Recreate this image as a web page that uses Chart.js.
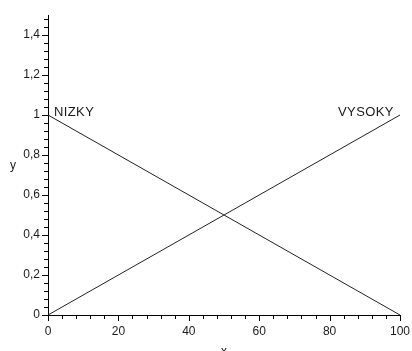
<!DOCTYPE html>
<html>
<head>
<meta charset="utf-8">
<script src="https://cdn.jsdelivr.net/npm/chart.js@4/dist/chart.umd.min.js"></script>
<style>
  html, body { margin: 0; padding: 0; background: #fff; }
  #wrap { width: 412px; height: 351px; }
</style>
</head>
<body>
<div id="wrap"><canvas id="c" width="412" height="351"></canvas></div>
<script>
// Membership lines of the two fuzzy sets
const xValues = [0, 100];
const nizkyValues = [1, 0];
const vysokyValues = [0, 1];
const seriesNames = ['NIZKY', 'VYSOKY'];

// Axis ticks
const xMajorTicks = [0, 20, 40, 60, 80, 100];
const yMajorTicks = [0, 0.2, 0.4, 0.6, 0.8, 1, 1.2, 1.4];
const xMinorStep = 4;
const yMinorStep = 0.04;
const xAxisTitle = 'x';
const yAxisTitle = 'y';

const FONT = '"Liberation Sans", Arial, sans-serif';
const TEXT = '#1a1a1a';

const toPoints = (ys) => xValues.map((x, i) => ({ x, y: ys[i] }));
const fmt = (v) => String(Math.round(v * 10) / 10).replace('.', ',');

// Minor tick marks along both axes, plus the curve names and axis letters
const annotate = {
  id: 'annotate',
  afterDraw(chart) {
    const ctx = chart.ctx;
    const xs = chart.scales.x, ys = chart.scales.y;
    const x0 = xs.getPixelForValue(0), y0 = ys.getPixelForValue(0);
    ctx.save();
    ctx.strokeStyle = '#000';
    ctx.lineWidth = 1;
    ctx.beginPath();
    for (let v = 0; v <= xs.max + 1e-9; v += xMinorStep) {
      const px = Math.round(xs.getPixelForValue(v)) + 0.5;
      const len = xMajorTicks.includes(Math.round(v)) ? 6 : 4;
      ctx.moveTo(px, y0); ctx.lineTo(px, y0 + len);
    }
    for (let i = 0; i * yMinorStep <= ys.max + 1e-9; i++) {
      const v = i * yMinorStep;
      const py = Math.round(ys.getPixelForValue(v)) + 0.5;
      const isMajor = yMajorTicks.some(t => Math.abs(t - v) < 1e-6);
      const len = isMajor ? 6 : 4;
      ctx.moveTo(x0, py); ctx.lineTo(x0 - len, py);
    }
    ctx.stroke();

    ctx.fillStyle = TEXT;
    ctx.font = '13px ' + FONT;
    if ('letterSpacing' in ctx) ctx.letterSpacing = '0.4px';
    ctx.textBaseline = 'alphabetic';
    ctx.textAlign = 'left';
    ctx.fillText(seriesNames[0], xs.getPixelForValue(1.7), ys.getPixelForValue(1) + 1);
    ctx.fillText(seriesNames[1], xs.getPixelForValue(82.4), ys.getPixelForValue(1) + 1);
    if ('letterSpacing' in ctx) ctx.letterSpacing = '0px';

    ctx.font = '12px ' + FONT;
    ctx.textAlign = 'center';
    ctx.fillText(yAxisTitle, 13, (chart.chartArea.top + chart.chartArea.bottom) / 2 + 4);
    ctx.fillText(xAxisTitle, (chart.chartArea.left + chart.chartArea.right) / 2, 355);
    ctx.restore();
  }
};

new Chart(document.getElementById('c'), {
  type: 'line',
  data: {
    datasets: [
      { label: seriesNames[0], data: toPoints(nizkyValues), borderColor: '#222', borderWidth: 1, pointRadius: 0, fill: false, tension: 0 },
      { label: seriesNames[1], data: toPoints(vysokyValues), borderColor: '#222', borderWidth: 1, pointRadius: 0, fill: false, tension: 0 }
    ]
  },
  options: {
    responsive: false,
    animation: false,
    events: [],
    layout: { padding: { top: 15, right: 12, left: 0, bottom: 0 } },
    plugins: { legend: { display: false }, tooltip: { enabled: false } },
    scales: {
      x: {
        type: 'linear', min: 0, max: 100,
        afterFit: (s) => { s.height = 36; s.paddingLeft = 0; s.paddingRight = 0; },
        afterBuildTicks: (s) => { s.ticks = xMajorTicks.map(v => ({ value: v })); },
        grid: { display: false, drawTicks: false },
        border: { display: true, color: '#000', width: 1 },
        ticks: { color: TEXT, font: { family: FONT, size: 12 }, padding: 9, maxRotation: 0, callback: (v) => String(v) }
      },
      y: {
        type: 'linear', min: 0, max: 1.5,
        afterFit: (s) => { s.width = 48; s.paddingTop = 0; s.paddingBottom = 0; },
        afterBuildTicks: (s) => { s.ticks = yMajorTicks.map(v => ({ value: v })); },
        grid: { display: false, drawTicks: false },
        border: { display: true, color: '#000', width: 1 },
        ticks: { color: TEXT, font: { family: FONT, size: 12 }, padding: 8, callback: (v) => fmt(v) }
      }
    }
  },
  plugins: [annotate]
});
</script>
</body>
</html>
